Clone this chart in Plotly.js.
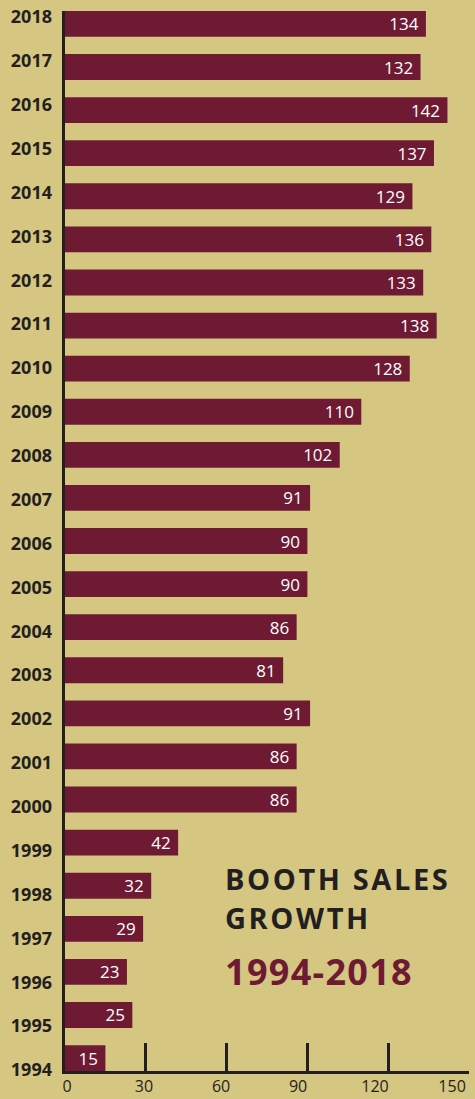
<!DOCTYPE html>
<html>
<head>
<meta charset="utf-8">
<script src="https://cdn.plot.ly/plotly-3.0.1.min.js"></script>
<style>
html,body{margin:0;padding:0;background:#d5c682;}
#chart{width:475px;height:1099px;}
</style>
</head>
<body>
<div id="chart"></div>
<script>
const years = [1994,1995,1996,1997,1998,1999,2000,2001,2002,2003,2004,2005,2006,2007,2008,2009,2010,2011,2012,2013,2014,2015,2016,2017,2018];
const booths = [15,25,23,29,32,42,86,86,91,81,86,90,90,91,102,110,128,138,133,136,129,137,142,132,134];
const xTicks = [0,30,60,90,120,150];
const yearLabels = years.map(String);
const titleLine1 = "BOOTH SALES";
const titleLine2 = "GROWTH";
const titleLine3 = "1994-2018";

const BG = "#d5c682";
const BAR = "#6f1a33";
const DARK = "#231f20";

const bars = {
  type: "bar",
  orientation: "h",
  x: booths,
  y: years,
  marker: {color: BAR},
  text: booths.map(String),
  texttemplate: "%{text}\u00a0",
  textposition: "inside",
  insidetextanchor: "end",
  constraintext: "none",
  textangle: 0,
  textfont: {family: "Open Sans", size: 17, color: "#ffffff"},
  hoverinfo: "skip",
  cliponaxis: false
};
const labelHelper = {
  type: "scatter",
  mode: "markers",
  x: [0], y: [2000],
  xaxis: "x2", yaxis: "y2",
  marker: {opacity: 0},
  hoverinfo: "skip",
  showlegend: false
};

const layout = {
  width: 475, height: 1099,
  margin: {l: 65, r: 6, t: 11, b: 28, pad: 0},
  paper_bgcolor: BG,
  plot_bgcolor: BG,
  showlegend: false,
  bargap: 0.4,
  xaxis: {
    range: [0, 150],
    tickvals: xTicks,
    showticklabels: false,
    ticks: "inside", ticklen: 28, tickwidth: 3, tickcolor: DARK,
    showline: true, linewidth: 3, linecolor: DARK,
    showgrid: false, zeroline: false, fixedrange: true
  },
  yaxis: {
    range: [1993.7, 2018.3],
    showticklabels: false, ticks: "",
    showline: true, linewidth: 3, linecolor: DARK,
    showgrid: false, zeroline: false, fixedrange: true
  },
  xaxis2: {
    overlaying: "x", anchor: "y2", side: "bottom",
    range: [-0.777, 156.6],
    tickvals: xTicks, ticktext: xTicks.map(String),
    ticks: "", showline: false, showgrid: false, zeroline: false,
    tickfont: {family: "Open Sans", size: 16, color: DARK},
    ticklabelstandoff: 4,
    fixedrange: true
  },
  yaxis2: {
    overlaying: "y", anchor: "x2", side: "left",
    range: [1993.977, 2018.137],
    tickvals: years, ticktext: yearLabels,
    ticks: "", showline: false, showgrid: false, zeroline: false,
    tickfont: {family: "Open Sans", size: 18, color: DARK, weight: 700},
    ticklabelstandoff: 12,
    fixedrange: true
  },
  annotations: [
    {xref: "paper", yref: "paper", x: 0.392, y: 0.1816, xanchor: "left", yanchor: "middle",
     showarrow: false, text: '<span style="letter-spacing:2.6px">' + titleLine1 + '</span>',
     font: {family: "Open Sans", size: 29, color: DARK, weight: 700}},
    {xref: "paper", yref: "paper", x: 0.392, y: 0.1448, xanchor: "left", yanchor: "middle",
     showarrow: false, text: '<span style="letter-spacing:2.6px">' + titleLine2 + '</span>',
     font: {family: "Open Sans", size: 29, color: DARK, weight: 700}},
    {xref: "paper", yref: "paper", x: 0.392, y: 0.0943, xanchor: "left", yanchor: "middle",
     showarrow: false, text: '<span style="letter-spacing:1.3px">' + titleLine3 + '</span>',
     font: {family: "Open Sans", size: 36, color: BAR, weight: 700}}
  ]
};

Plotly.newPlot("chart", [bars, labelHelper], layout, {displayModeBar: false, staticPlot: true});
</script>
</body>
</html>
